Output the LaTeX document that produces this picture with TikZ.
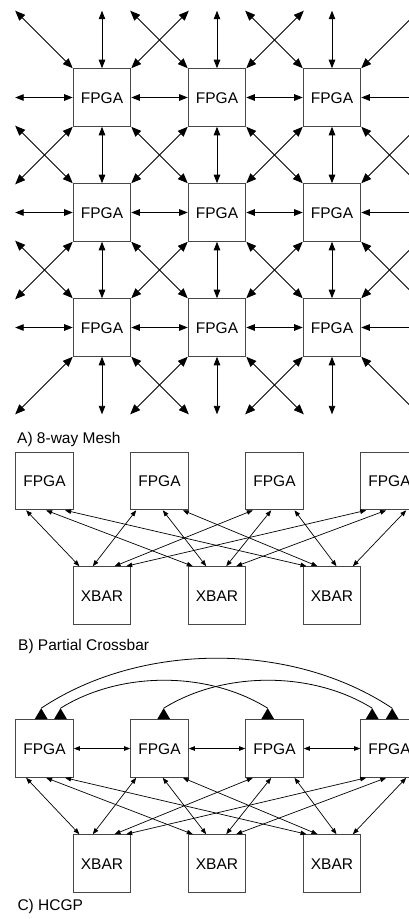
\documentclass[tikz,border=0pt]{standalone}
\usepackage{fontspec}
\setmainfont{Liberation Sans}
\usetikzlibrary{arrows.meta,calc}
\begin{document}
\begin{tikzpicture}[x=1pt,y=-1pt,
  box/.style={draw=black!72,line width=1.1pt,minimum size=57.5pt,inner sep=0pt,
    font=\fontsize{15.5}{18}\selectfont,text height=11.1pt,text depth=0pt},
  meshlink/.style={line width=0.9pt,
    {Triangle[length=8.5pt,width=6.5pt]}-{Triangle[length=8.5pt,width=6.5pt]}},
  diaglink/.style={line width=0.9pt,
    {Triangle[length=10pt,width=8pt]}-{Triangle[length=10pt,width=8pt]}},
  barlink/.style={line width=0.7pt,
    {Triangle[length=6pt,width=4.5pt]}-{Triangle[length=6pt,width=4.5pt]}},
  arcline/.style={line width=0.8pt},
  tag/.style={anchor=base west,inner sep=0pt,font=\fontsize{15.5}{18}\selectfont}]

\useasboundingbox (0,0) rectangle (409,919);
\fill[white] (0,0) rectangle (409,919);
\clip (0,0) rectangle (409,919);

% ---------------- A) 8-way mesh ----------------
\foreach \i in {1,2,3}{
  \foreach \j in {1,2,3}{
    \node[box] (m-\i-\j) at ({102+115*(\i-1)},{97.5+115*(\j-1)}) {FPGA};
  }
}
% vertical links
\foreach \i in {1,2,3}{
  \coordinate (mt-\i) at ($(m-\i-1.north)+(0,-57.5)$);
  \coordinate (mb-\i) at ($(m-\i-3.south)+(0,57.5)$);
  \draw[meshlink] (mt-\i) -- (m-\i-1.north);
  \draw[meshlink] (m-\i-1.south) -- (m-\i-2.north);
  \draw[meshlink] (m-\i-2.south) -- (m-\i-3.north);
  \draw[meshlink] (m-\i-3.south) -- (mb-\i);
}
% horizontal links
\foreach \j in {1,2,3}{
  \coordinate (ml-\j) at ($(m-1-\j.west)+(-57.5,0)$);
  \coordinate (mr-\j) at ($(m-3-\j.east)+(57.5,0)$);
  \draw[meshlink] (ml-\j) -- (m-1-\j.west);
  \draw[meshlink] (m-1-\j.east) -- (m-2-\j.west);
  \draw[meshlink] (m-2-\j.east) -- (m-3-\j.west);
  \draw[meshlink] (m-3-\j.east) -- (mr-\j);
}
% diagonal links between boxes
\foreach \a/\b/\c/\d in {1/1/2/2,2/1/3/2,1/2/2/3,2/2/3/3}
  \draw[diaglink] (m-\a-\b.south east) -- (m-\c-\d.north west);
\foreach \a/\b/\c/\d in {1/2/2/1,2/2/3/1,1/3/2/2,2/3/3/2}
  \draw[diaglink] (m-\a-\b.north east) -- (m-\c-\d.south west);
% diagonal links leaving the mesh
\foreach \a/\b in {1/1,2/1,3/1,1/2,1/3}{
  \coordinate (nw-\a-\b) at ($(m-\a-\b.north west)+(-57.5,-57.5)$);
  \draw[diaglink] (m-\a-\b.north west) -- (nw-\a-\b);
}
\foreach \a/\b in {1/1,2/1,3/1,3/2,3/3}{
  \coordinate (ne-\a-\b) at ($(m-\a-\b.north east)+(57.5,-57.5)$);
  \draw[diaglink] (m-\a-\b.north east) -- (ne-\a-\b);
}
\foreach \a/\b in {1/3,2/3,3/3,1/1,1/2}{
  \coordinate (sw-\a-\b) at ($(m-\a-\b.south west)+(-57.5,57.5)$);
  \draw[diaglink] (m-\a-\b.south west) -- (sw-\a-\b);
}
\foreach \a/\b in {1/3,2/3,3/3,3/1,3/2}{
  \coordinate (se-\a-\b) at ($(m-\a-\b.south east)+(57.5,57.5)$);
  \draw[diaglink] (m-\a-\b.south east) -- (se-\a-\b);
}
\node[tag] (la) at (17,443.3) {A) 8-way Mesh};

% ---------------- B) Partial crossbar ----------------
\foreach \k in {1,...,4}
  \node[box] (b-f\k) at ({44.5+115*(\k-1)},481) {FPGA};
\foreach \k in {1,2,3}
  \node[box] (b-x\k) at ({102+115*(\k-1)},595.5) {XBAR};
\foreach \f/\x/\a/\b in {1/1/10.9/6.7, 1/2/30.9/5.1, 1/3/49.9/3.8,
                         2/1/6/20.1, 2/2/32.6/18.5, 2/3/52.6/14.8,
                         3/1/7.6/41.8, 3/2/26/38.5, 3/3/49.3/33.8,
                         4/1/6/53.5, 4/2/26/48.5, 4/3/46/50.1}
  \draw[barlink] ($(b-f\f.south west)+(\a,0)$) -- ($(b-x\x.north west)+(\b,0)$);
\node[tag] (lb) at (18,650.7) {B) Partial Crossbar};

% ---------------- C) HCGP ----------------
\foreach \k in {1,...,4}
  \node[box] (c-f\k) at ({44.5+115*(\k-1)},748.5) {FPGA};
\foreach \k in {1,2,3}
  \node[box] (c-x\k) at ({102+115*(\k-1)},863.5) {XBAR};
\foreach \f/\x/\a/\b in {1/1/10.9/6.7, 1/2/30.9/5.1, 1/3/49.9/3.8,
                         2/1/6/20.1, 2/2/32.6/18.5, 2/3/52.6/14.8,
                         3/1/7.6/41.8, 3/2/26/38.5, 3/3/49.3/33.8,
                         4/1/6/53.5, 4/2/26/48.5, 4/3/46/50.1}
  \draw[barlink] ($(c-f\f.south west)+(\a,0)$) -- ($(c-x\x.north west)+(\b,0)$);
\foreach \k/\n in {1/2,2/3,3/4}
  \draw[barlink] (c-f\k.east) -- (c-f\n.west);
% arc end points with their triangular heads
\coordinate (c-p1) at ($(c-f1.north west)+(26,-11)$);
\coordinate (c-p2) at ($(c-f1.north west)+(45.3,-11)$);
\coordinate (c-p3) at ($(c-f2.north west)+(33.5,-11)$);
\coordinate (c-p4) at ($(c-f3.north west)+(22.5,-11)$);
\coordinate (c-p5) at ($(c-f4.north west)+(12,-11)$);
\coordinate (c-p6) at ($(c-f4.north west)+(32,-11)$);
\foreach \p in {1,...,6}
  \fill (c-p\p) -- ++(-6.5,11) -- ++(13,0) -- cycle;
\draw[arcline] (c-p1) .. controls +(100,-66.7) and +(-100,-66.7) .. (c-p6);
\draw[arcline] (c-p2) .. controls +(60,-37.3) and +(-60,-37.3) .. (c-p4);
\draw[arcline] (c-p3) .. controls +(60,-37.3) and +(-60,-37.3) .. (c-p5);
\node[tag] (lc) at (17.3,910) {C) HCGP};
\end{tikzpicture}
\end{document}
